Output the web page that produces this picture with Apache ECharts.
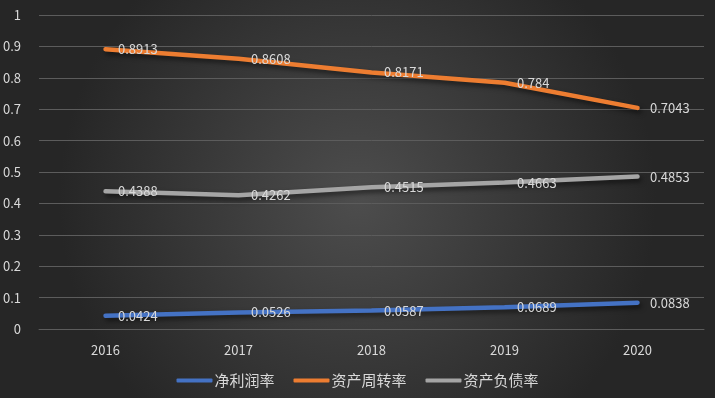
<!DOCTYPE html>
<html>
<head>
<meta charset="utf-8">
<script src="https://cdn.jsdelivr.net/npm/echarts@6/dist/echarts.min.js"></script>
<style>
html, body { margin: 0; padding: 0; }
#main { width: 715px; height: 398px; }
</style>
</head>
<body>
<div id="main"></div>
<script>
var years = ['2016', '2017', '2018', '2019', '2020'];
var netMargin = [0.0424, 0.0526, 0.0587, 0.0689, 0.0838];
var assetTurnover = [0.8913, 0.8608, 0.8171, 0.784, 0.7043];
var debtRatio = [0.4388, 0.4262, 0.4515, 0.4663, 0.4853];
var names = ['净利润率', '资产周转率', '资产负债率'];

var font = '"Noto Sans CJK SC", "Microsoft YaHei", sans-serif';
var textColor = '#d9d9d9';

function makeSeries(name, data, color) {
    return {
        name: name,
        type: 'line',
        data: data,
        symbol: 'circle',
        symbolSize: 1,
        lineStyle: {
            width: 4.5,
            color: color,
            cap: 'round',
            shadowColor: 'rgba(0,0,0,0.55)',
            shadowBlur: 5,
            shadowOffsetX: 2,
            shadowOffsetY: 3
        },
        itemStyle: { color: color },
        label: {
            show: true,
            position: 'right',
            distance: 12,
            color: textColor,
            fontSize: 13,
            fontFamily: font
        },
        emphasis: { disabled: true }
    };
}

var myChart = echarts.init(document.getElementById('main'));
var option = {
    backgroundColor: {
        type: 'radial', x: 0.5, y: 0.5, r: 0.75,
        colorStops: [
            { offset: 0, color: '#4d4d4d' },
            { offset: 1, color: '#262626' }
        ]
    },
    animation: false,
    grid: { left: 39, right: 11, top: 15, bottom: 69 },
    legend: {
        bottom: 5,
        left: 'center',
        itemWidth: 36,
        itemHeight: 4,
        itemGap: 19,
        icon: 'roundRect',
        textStyle: { color: textColor, fontSize: 15, fontFamily: font, padding: [0, 0, 0, -3] },
        data: names
    },
    xAxis: {
        type: 'category',
        data: years,
        axisLine: { show: true, lineStyle: { color: '#5c5c5c' } },
        axisTick: { show: false },
        axisLabel: { color: textColor, fontSize: 13, fontFamily: font, margin: 15 }
    },
    yAxis: {
        type: 'value',
        min: 0,
        max: 1,
        interval: 0.1,
        axisLine: { show: false },
        axisTick: { show: false },
        splitLine: { lineStyle: { color: '#5c5c5c' } },
        axisLabel: { color: textColor, fontSize: 13, fontFamily: font, margin: 18 }
    },
    series: [
        makeSeries(names[0], netMargin, '#4472c4'),
        makeSeries(names[1], assetTurnover, '#ed7d31'),
        makeSeries(names[2], debtRatio, '#a5a5a5')
    ]
};
myChart.setOption(option);
</script>
</body>
</html>
